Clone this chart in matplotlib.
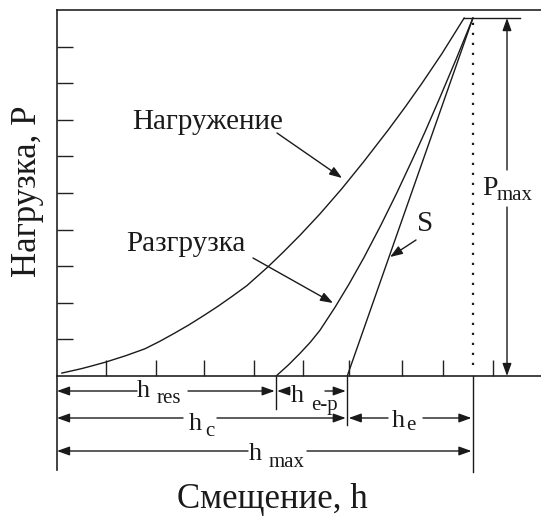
import matplotlib
matplotlib.use("Agg")
import matplotlib.pyplot as plt

plt.rcParams['font.family'] = ['Liberation Serif', 'DejaVu Serif']

# ---- data (h in arbitrary units, P in arbitrary units) ----
load_h = [0.10, 0.30, 0.50, 0.70, 1.00, 1.40, 1.80, 2.10, 2.40, 2.70, 3.00,
          3.30, 3.60, 3.90, 4.33, 4.65, 5.00, 5.40, 5.85, 6.30, 6.80, 7.15,
          7.50, 7.90, 8.36]
load_P = [0.08, 0.14, 0.20, 0.27, 0.38, 0.55, 0.74, 0.94, 1.16, 1.39, 1.64,
          1.90, 2.18, 2.47, 2.98, 3.39, 3.86, 4.43, 5.12, 5.86, 6.72, 7.35,
          8.01, 8.80, 9.78]

unload_h = [8.54, 8.20, 7.85, 7.56, 7.30, 6.98, 6.65, 6.30, 6.00, 5.71, 5.40,
            5.20, 4.99, 4.75, 4.50]
unload_P = [9.78, 8.67, 7.57, 6.68, 5.92, 5.01, 4.12, 3.23, 2.52, 1.88, 1.25,
            0.92, 0.62, 0.30, 0.00]

S_h = [8.54, 5.96]
S_P = [9.78, 0.00]

x_ticks = [1.0, 2.03, 3.02, 4.05, 5.05, 6.0, 7.08, 7.93, 8.95]
y_ticks = [1, 2, 3, 4, 5, 6, 7, 8, 9]

h_max = 8.54
h_res = 4.50
h_c = 5.96
P_max = 9.78

# ---- figure ----
W, H = 541, 518
fig = plt.figure(figsize=(W / 100, H / 100), dpi=100)
ax = fig.add_axes([57 / W, 142 / H, 484 / W, 366 / H])
ax.set_xlim(0, 484 / 48.7)
ax.set_ylim(0, 10)

for s in ['left', 'top', 'bottom']:
    ax.spines[s].set_linewidth(1.2)
    ax.spines[s].set_color('#222222')
ax.spines['right'].set_visible(False)

ax.set_xticks(x_ticks)
ax.set_yticks(y_ticks)
ax.tick_params(direction='in', length=11.5, width=1.0, color='#222222',
               labelbottom=False, labelleft=False)

lc = '#1a1a1a'
lw = 1.0
ax.plot(load_h, load_P, color=lc, lw=lw, solid_joinstyle='round')
ax.plot(unload_h, unload_P, color=lc, lw=lw, solid_joinstyle='round')
ax.plot(S_h, S_P, color=lc, lw=lw)
ax.plot([8.36, 9.51], [P_max, P_max], color=lc, lw=lw)
ax.plot([h_max, h_max], [0.3, P_max], color=lc, lw=1.6, ls=(0, (1, 3.5)))

# helpers to convert pixel positions to data coords
def dx(px):
    return (px - 57) / 48.7

def dy(py):
    return (376 - py) / 36.6

# vertical extension lines below axis
kw = dict(color=lc, lw=lw, clip_on=False)
ax.plot([0, 0], [0, dy(470)], color='#222222', lw=1.2, clip_on=False)
ax.plot([h_res, h_res], [0, dy(409)], **kw)
ax.plot([h_c, h_c], [0, dy(425)], **kw)
ax.plot([h_max, h_max], [0, dy(472)], **kw)

ap = dict(arrowstyle='-|>,head_length=0.75,head_width=0.27', color=lc, lw=lw,
          shrinkA=0, shrinkB=0, mutation_scale=10)

def arrow(x0, y0, x1, y1):
    ax.annotate('', xy=(x1, y1), xytext=(x0, y0), xycoords='data',
                textcoords='data', arrowprops=ap, annotation_clip=False)

def label(xh, yb, main, sub, xs, ys, fs=19, fss=15):
    ax.text(xh, yb, main, fontsize=fs, ha='left', va='baseline',
            color=lc, clip_on=False)
    ax.text(xs, ys, sub, fontsize=fss, ha='left', va='baseline',
            color=lc, clip_on=False)

# row 1: h_res and h_e-p
y1 = dy(391)
arrow(dx(137), y1, 0, y1)
arrow(dx(188), y1, h_res - 0.03, y1)
label(dx(137), dy(397), 'h', 'res', dx(157), dy(403))
arrow(dx(290), y1, h_res + 0.02, y1)
arrow(dx(325), y1, h_c - 0.03, y1)
label(dx(291), dy(402), 'h', 'e-p', dx(311), dy(410))

# row 2: h_c and h_e
y2 = dy(418)
arrow(dx(183), y2, 0, y2)
arrow(dx(217), y2, h_c - 0.03, y2)
label(dx(189), dy(430), 'h', 'c', dx(205), dy(436))
arrow(dx(388), y2, h_c + 0.03, y2)
arrow(dx(423), y2, h_max - 0.03, y2)
label(dx(392), dy(427), 'h', 'e', dx(406), dy(430))

# row 3: h_max
y3 = dy(451)
arrow(dx(248), y3, 0, y3)
arrow(dx(307), y3, h_max - 0.03, y3)
label(dx(249), dy(460), 'h', 'max', dx(269), dy(467))

# P_max double arrow
xp = dx(507)
arrow(xp, dy(170), xp, P_max)
arrow(xp, dy(207), xp, 0)
label(dx(482), dy(195), 'P', 'max', dx(497), dy(200), fs=20, fss=15)

# curve annotations
ax.text(dx(208), dy(122), 'Нагружение', fontsize=21, ha='center',
        va='center', color=lc)
arrow(dx(277), dy(133), dx(342), dy(178))
ax.text(dx(186), dy(244), 'Разгрузка', fontsize=21, ha='center',
        va='center', color=lc)
arrow(dx(253), dy(258), dx(333), dy(303))
ax.text(dx(425), dy(224), 'S', fontsize=21, ha='center', va='center',
        color=lc)
arrow(dx(416), dy(240), dx(390), dy(257))

# axis titles
fig.text(272 / W, 1 - 500 / H, 'Смещение, h', fontsize=25, ha='center',
         va='center', color=lc)
fig.text(27 / W, 1 - 191 / H, 'Нагрузка, P', fontsize=25, ha='center',
         va='center', rotation=90, color=lc)

fig.savefig('out.png', dpi=100)
